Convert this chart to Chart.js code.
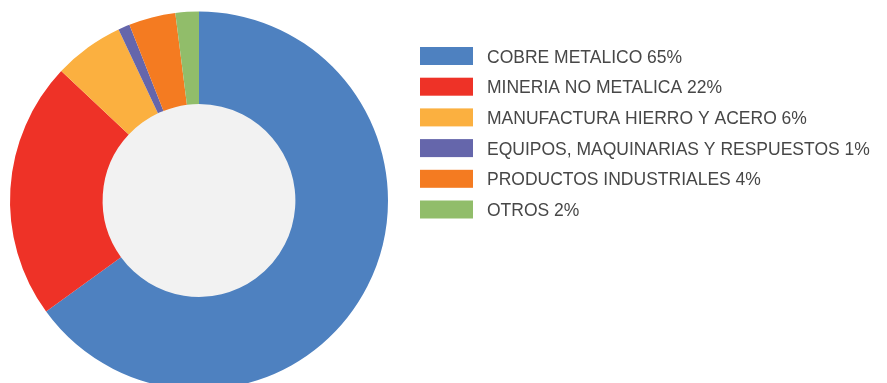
<!DOCTYPE html>
<html>
  <head>
    <meta charset="utf-8">
    <title>Exportaciones por sector</title>
    <script src="https://cdn.jsdelivr.net/npm/chart.js"></script>
    <style>
      html, body { margin: 0; padding: 0; background: #fff; overflow: hidden; }
      #wrap { width: 887px; height: 383px; overflow: hidden; }
    </style>
  </head>
  <body>
    <div id="wrap">
      <canvas id="myChart" width="887" height="401"></canvas>
    </div>
    <script>
      // Sectores y porcentajes
      const sectores = [
        'COBRE METALICO',
        'MINERIA NO METALICA',
        'MANUFACTURA HIERRO Y ACERO',
        'EQUIPOS, MAQUINARIAS Y RESPUESTOS',
        'PRODUCTOS INDUSTRIALES',
        'OTROS'
      ];
      const porcentajes = [65, 22, 6, 1, 4, 2];
      const colores = ['#4e81c0', '#ee3227', '#fbb040', '#6566ab', '#f47b21', '#91bd6a'];

      // Fondo gris del agujero central
      const centroGris = {
        id: 'centroGris',
        beforeDatasetsDraw(chart) {
          const arc = chart.getDatasetMeta(0).data[0];
          if (!arc) return;
          const ctx = chart.ctx;
          ctx.save();
          ctx.fillStyle = '#f2f2f2';
          ctx.beginPath();
          ctx.arc(arc.x, arc.y, arc.innerRadius + 1, 0, Math.PI * 2);
          ctx.fill();
          ctx.restore();
        }
      };

      // Leyenda a la derecha del anillo
      const leyenda = {
        id: 'leyenda',
        afterDraw(chart) {
          const ctx = chart.ctx;
          const x0 = chart.chartArea.right + 32;
          const y0 = 47;
          const paso = 30.7;
          ctx.save();
          ctx.font = '300 17.5px "Liberation Sans", Arial, sans-serif';
          ctx.textBaseline = 'alphabetic';
          ctx.textAlign = 'left';
          sectores.forEach((s, i) => {
            const y = y0 + i * paso;
            ctx.fillStyle = colores[i];
            ctx.fillRect(x0, y, 53, 18);
            ctx.fillStyle = '#474747';
            ctx.fillText(s + ' ' + porcentajes[i] + '%', x0 + 67, y + 15.5);
          });
          ctx.restore();
        }
      };

      const ctx = document.getElementById('myChart').getContext('2d');
      new Chart(ctx, {
        type: 'doughnut',
        data: {
          labels: sectores,
          datasets: [{
            data: porcentajes,
            backgroundColor: colores,
            borderWidth: 0,
            hoverOffset: 0
          }]
        },
        options: {
          responsive: false,
          animation: false,
          cutout: '51%',
          layout: {
            padding: { left: 10, right: 499, top: 11.5, bottom: 11.5 }
          },
          plugins: {
            legend: { display: false },
            tooltip: { enabled: false }
          }
        },
        plugins: [centroGris, leyenda]
      });
    </script>
  </body>
</html>
